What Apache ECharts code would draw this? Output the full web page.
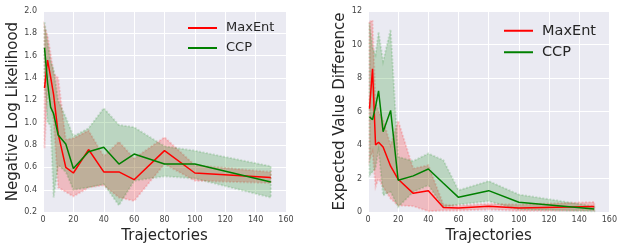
<!DOCTYPE html>
<html>
<head>
    <meta charset="UTF-8">
    <title>MaxEnt vs CCP</title>
    <script src="https://cdn.jsdelivr.net/npm/echarts@6/dist/echarts.min.js"></script>
    <style>
        body { margin: 0; background: #fff; }
    </style>
</head>
<body>
    <div id="main" style="width:620px; height:249px;"></div>
    <script>
        // number of trajectories (x)
        var trajX = [1, 3, 5, 7, 10, 15, 20, 30, 40, 50, 60, 80, 100, 150];

        // negative log likelihood (left panel)
        var nllMaxEnt   = [1.31, 1.56, 1.41, 1.25, 0.90, 0.60, 0.55, 0.76, 0.56, 0.56, 0.49, 0.75, 0.55, 0.51];
        var nllMaxEntHi = [1.86, 1.78, 1.62, 1.44, 1.40, 0.85, 0.86, 0.93, 0.70, 0.83, 0.68, 0.87, 0.62, 0.56];
        var nllMaxEntLo = [0.77, 1.30, 1.15, 1.02, 0.42, 0.38, 0.34, 0.42, 0.44, 0.33, 0.30, 0.63, 0.48, 0.46];
        var nllCCP      = [1.67, 1.36, 1.14, 1.08, 0.89, 0.81, 0.59, 0.74, 0.78, 0.63, 0.72, 0.63, 0.63, 0.47];
        var nllCCPHi    = [1.90, 1.72, 1.55, 1.48, 1.20, 1.05, 0.88, 0.95, 1.13, 0.98, 0.96, 0.79, 0.75, 0.61];
        var nllCCPLo    = [1.42, 1.00, 0.98, 0.33, 0.62, 0.56, 0.40, 0.42, 0.45, 0.26, 0.48, 0.52, 0.50, 0.33];

        // expected value difference (right panel)
        var evdMaxEnt   = [6.17, 8.55, 4.00, 4.17, 3.88, 2.74, 1.96, 1.12, 1.27, 0.28, 0.25, 0.35, 0.25, 0.33];
        var evdMaxEntHi = [11.35, 11.45, 6.5, 6.0, 5.5, 4.0, 5.45, 2.6, 2.8, 0.45, 0.40, 0.50, 0.45, 0.60];
        var evdMaxEntLo = [3.1, 3.6, 1.5, 2.0, 1.5, 0.8, 0.4, 0.35, 0.05, 0.10, 0.10, 0.15, 0.08, 0.10];
        var evdCCP      = [5.68, 5.52, 6.3, 7.24, 4.80, 6.07, 1.90, 2.16, 2.57, 1.72, 0.88, 1.28, 0.59, 0.18];
        var evdCCPHi    = [11.3, 9.8, 9.4, 10.75, 9.0, 10.9, 3.3, 3.05, 3.5, 3.1, 1.3, 1.85, 1.05, 0.35];
        var evdCCPLo    = [2.2, 2.4, 2.6, 3.7, 1.0, 1.2, 0.3, 1.2, 1.6, 0.3, 0.45, 0.65, 0.15, 0.05];

        var FONT = 'DejaVu Sans';
        var RED = '#ff0000';
        var GREEN = '#008000';

        function pairs(xs, ys) {
            return xs.map(function (x, i) { return [x, ys[i]]; });
        }

        // shaded band drawn as one polygon through the axis scales
        function band(idx, lo, hi, fill, edge) {
            return {
                type: 'custom',
                xAxisIndex: idx,
                yAxisIndex: idx,
                silent: true,
                z: 1,
                data: [[trajX[0], lo[0]]],
                renderItem: function (params, api) {
                    var pts = [];
                    for (var i = 0; i < trajX.length; i++) pts.push(api.coord([trajX[i], hi[i]]));
                    for (var j = trajX.length - 1; j >= 0; j--) pts.push(api.coord([trajX[j], lo[j]]));
                    return {
                        type: 'polygon',
                        shape: { points: pts },
                        style: { fill: fill, stroke: edge, lineWidth: 2, lineDash: [2, 1.5] }
                    };
                }
            };
        }

        function line(idx, name, ys, color) {
            return {
                type: 'line',
                name: name,
                xAxisIndex: idx,
                yAxisIndex: idx,
                data: pairs(trajX, ys),
                showSymbol: false,
                z: 3,
                lineStyle: { color: color, width: 1.5 },
                itemStyle: { color: color },
                animation: false
            };
        }

        function xAx(idx, gap) {
            return {
                type: 'value', gridIndex: idx, min: 0, max: 160, interval: 20,
                name: 'Trajectories', nameLocation: 'middle', nameGap: gap,
                nameTextStyle: { fontFamily: FONT, fontSize: 15, color: '#262626' },
                axisLine: { show: false }, axisTick: { show: false },
                axisLabel: { fontFamily: FONT, fontSize: 8, color: '#444', margin: 4 },
                splitLine: { lineStyle: { color: '#ffffff', width: 1 } }
            };
        }

        function yAx(idx, name, min, max, step, gap, digits) {
            return {
                type: 'value', gridIndex: idx, min: min, max: max, interval: step,
                name: name, nameLocation: 'middle', nameGap: gap,
                nameTextStyle: { fontFamily: FONT, fontSize: 15, color: '#262626' },
                axisLine: { show: false }, axisTick: { show: false },
                axisLabel: {
                    fontFamily: FONT, fontSize: 8, color: '#444', margin: 6,
                    formatter: function (v) { return v.toFixed(digits); }
                },
                splitLine: { lineStyle: { color: '#ffffff', width: 1 } }
            };
        }

        function legend(left, top, size) {
            return {
                data: ['MaxEnt', 'CCP'],
                orient: 'vertical', left: left, top: top, padding: 0,
                icon: 'rect', itemWidth: 29, itemHeight: 2, itemGap: 6,
                textStyle: { fontFamily: FONT, fontSize: size, color: '#262626', lineHeight: size + 1, padding: [0, 0, 0, 4] },
                selectedMode: false
            };
        }

        var chart = echarts.init(document.getElementById('main'), null, { renderer: 'canvas' });
        chart.setOption({
            animation: false,
            backgroundColor: '#ffffff',
            grid: [
                { left: 43, top: 11, width: 243, height: 202, show: true, backgroundColor: '#EAEAF2', borderWidth: 0 },
                { left: 368, top: 11, width: 245, height: 204, show: true, backgroundColor: '#EAEAF2', borderWidth: 0 }
            ],
            legend: [legend(188, 21, 13), legend(504, 23, 14.5)],
            xAxis: [xAx(0, 15), xAx(1, 13)],
            yAxis: [
                yAx(0, 'Negative Log Likelihood', 0.2, 2.0, 0.2, 21, 1),
                yAx(1, 'Expected Value Difference', 0, 12, 2, 18, 0)
            ],
            series: [
                band(0, nllMaxEntLo, nllMaxEntHi, 'rgba(255,0,0,0.2)', 'rgba(255,0,0,0.15)'),
                band(0, nllCCPLo, nllCCPHi, 'rgba(0,128,0,0.2)', 'rgba(0,128,0,0.15)'),
                line(0, 'MaxEnt', nllMaxEnt, RED),
                line(0, 'CCP', nllCCP, GREEN),
                band(1, evdMaxEntLo, evdMaxEntHi, 'rgba(255,0,0,0.2)', 'rgba(255,0,0,0.15)'),
                band(1, evdCCPLo, evdCCPHi, 'rgba(0,128,0,0.2)', 'rgba(0,128,0,0.15)'),
                line(1, 'MaxEnt', evdMaxEnt, RED),
                line(1, 'CCP', evdCCP, GREEN)
            ]
        });
    </script>
</body>
</html>
